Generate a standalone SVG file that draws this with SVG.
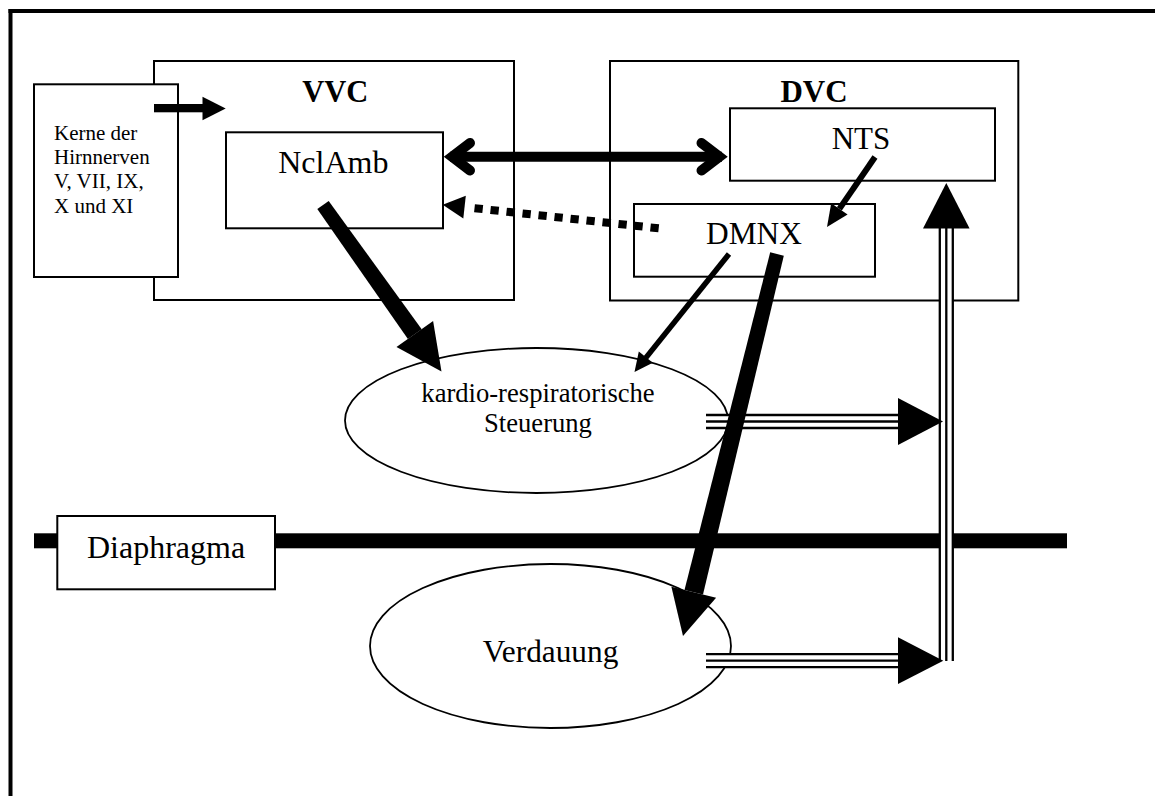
<svg xmlns="http://www.w3.org/2000/svg" width="1155" height="796" viewBox="0 0 1155 796">
  <style>
    .box { fill: #fff; stroke: #000; stroke-width: 2; }
    .oval { fill: #fff; stroke: #000; stroke-width: 1.8; }
    .lbl { font-family: "Liberation Serif", "Times New Roman", serif; fill: #000; text-anchor: middle; }
    .small { font-family: "Liberation Serif", "Times New Roman", serif; fill: #000; font-size: 21px; }
    .head { fill: #000; stroke: none; }
    .tri-a { fill: none; stroke: #000; stroke-width: 15.3; }
    .tri-b { fill: none; stroke: #fff; stroke-width: 10.7; }
    .tri-c { fill: none; stroke: #000; stroke-width: 2.3; }
  </style>

  <!-- frame: top and left rules only -->
  <g id="frame">
    <line x1="8.5" y1="11" x2="1155" y2="11" stroke="#000" stroke-width="4"/>
    <line x1="10.5" y1="9" x2="10.5" y2="796" stroke="#000" stroke-width="4"/>
  </g>

  <g id="vvc">
    <rect class="box" x="154" y="61" width="360" height="239"/>
    <text class="lbl" x="335.3" y="101.7" font-size="30.5" font-weight="bold">VVC</text>
  </g>

  <g id="kerne">
    <rect class="box" x="34" y="84.3" width="144" height="192.7"/>
    <text class="small" x="54" y="140">Kerne der</text>
    <text class="small" x="54" y="164">Hirnnerven</text>
    <text class="small" x="54" y="188.3">V, VII, IX,</text>
    <text class="small" x="54" y="213">X und XI</text>
  </g>

  <g id="nclamb">
    <rect class="box" x="226" y="132.3" width="217" height="96"/>
    <text class="lbl" x="333.3" y="173" font-size="32">NclAmb</text>
  </g>

  <g id="dvc">
    <rect class="box" x="610" y="61" width="408.3" height="239.5"/>
    <text class="lbl" x="814" y="101.7" font-size="31" font-weight="bold">DVC</text>
  </g>

  <g id="nts">
    <rect class="box" x="730" y="108.3" width="265" height="72.4"/>
    <text class="lbl" x="861" y="149" font-size="31">NTS</text>
  </g>

  <g id="dmnx">
    <rect class="box" x="634" y="204" width="241" height="72.7"/>
    <text class="lbl" x="754" y="244" font-size="31.4">DMNX</text>
  </g>

  <g id="kardio">
    <ellipse class="oval" cx="536.5" cy="420.5" rx="191.5" ry="72.5"/>
    <text class="lbl" x="538" y="402" font-size="26.6">kardio-respiratorische</text>
    <text class="lbl" x="538" y="432" font-size="26.6">Steuerung</text>
  </g>

  <g id="verdauung">
    <ellipse class="oval" cx="550.5" cy="646" rx="180.5" ry="82"/>
    <text class="lbl" x="550.5" y="662" font-size="31.3">Verdauung</text>
  </g>

  <g id="diaphragma">
    <rect x="34" y="533.3" width="1033" height="15" fill="#000"/>
    <rect class="box" x="57.3" y="516" width="217.7" height="73.3"/>
    <text class="lbl" x="166" y="558" font-size="32">Diaphragma</text>
  </g>

  <g id="connectors">
    <!-- afferent triple lines back to NTS -->
    <g id="afferent">
      <path class="tri-a" d="M946.3 226 V661"/>
      <path class="tri-b" d="M946.3 226 V661"/>
      <path class="tri-c" d="M946.3 226 V661"/>
      <polygon class="head" points="946.3,183 923,228.5 969.6,228.5"/>

      <path class="tri-a" d="M706 421.5 H900"/>
      <path class="tri-b" d="M706 421.5 H900"/>
      <path class="tri-c" d="M706 421.5 H900"/>
      <polygon class="head" points="898,398 943,421.5 898,445"/>

      <path class="tri-a" d="M706 660.7 H900"/>
      <path class="tri-b" d="M706 660.7 H900"/>
      <path class="tri-c" d="M706 660.7 H900"/>
      <polygon class="head" points="898,637.3 943.3,660.7 898,684"/>
    </g>

    <!-- cranial nerve nuclei into VVC -->
    <rect x="154" y="104" width="49" height="8.3" fill="#000"/>
    <polygon class="head" points="202.5,96.7 225.7,108.5 202.5,120.3"/>

    <!-- NclAmb <-> NTS -->
    <line x1="450" y1="156.7" x2="722" y2="156.7" stroke="#000" stroke-width="10"/>
    <polyline points="470,143 452,156.7 470,170.5" fill="none" stroke="#000" stroke-width="10" stroke-linejoin="miter" stroke-linecap="round"/>
    <polyline points="701.5,143 719.5,156.7 701.5,170.5" fill="none" stroke="#000" stroke-width="10" stroke-linejoin="miter" stroke-linecap="round"/>

    <!-- DMNX to NclAmb, dotted -->
    <line x1="658.7" y1="228.3" x2="474.5" y2="208.2" stroke="#000" stroke-width="8" stroke-dasharray="8.3 7.79"/>
    <polygon class="head" points="442.7,204.7 465.8,195.7 463.3,218.5"/>

    <!-- NTS to DMNX -->
    <line x1="875" y1="157" x2="839.4" y2="208.9" stroke="#000" stroke-width="6"/>
    <polygon class="head" points="827,227 847.6,214.6 831.2,203.3"/>

    <!-- DMNX to cardio-respiratory control -->
    <line x1="729" y1="254" x2="645.8" y2="357.9" stroke="#000" stroke-width="5.5"/>
    <polygon class="head" points="634.5,372 652.8,362.8 638.8,351.6"/>

    <!-- NclAmb to cardio-respiratory control, thick -->
    <polygon class="head" points="317.3,209.1 328.7,201 421.7,329.2 407.9,339"/>
    <polygon class="head" points="441.5,371.5 433.1,320.9 396.5,347.1"/>

    <!-- DMNX to digestion, thick -->
    <polygon class="head" points="770.2,252.3 783.8,255.7 703,594.6 684.5,590"/>
    <polygon class="head" points="683,636 716.1,597.8 671.4,586.8"/>
  </g>
</svg>
